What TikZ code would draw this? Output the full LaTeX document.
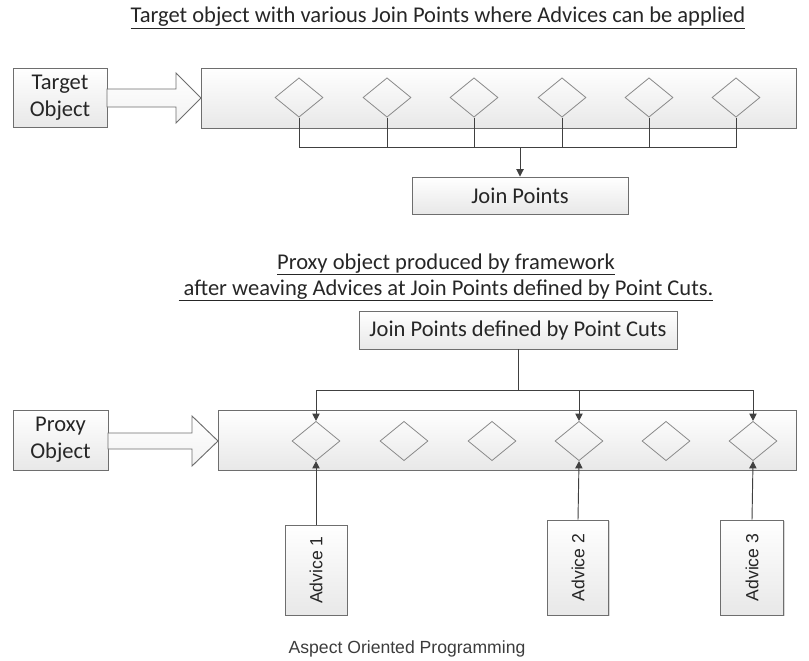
\documentclass[tikz,border=0pt]{standalone}
\usepackage{fontspec}
\setmainfont{Carlito}
\newfontfamily\arialfont{Liberation Sans}
\usetikzlibrary{arrows.meta,shapes.geometric,shadows}
\definecolor{boxline}{HTML}{6E6E6E}
\definecolor{conn}{HTML}{404040}
\definecolor{dia}{HTML}{8A8A8A}
\definecolor{txt}{HTML}{262626}
\tikzset{
  box/.style={draw=boxline, line width=0.7pt, top color=white, bottom color=black!9,
    inner sep=0pt, align=center, text=txt,
    font=\fontsize{16.9}{20}\selectfont,
    drop shadow={shadow xshift=1.1pt, shadow yshift=-1.1pt, opacity=.25, fill=black!60}},
  advbox/.style={box, rotate=90, font=\arialfont\fontsize{13.2}{16}\selectfont},
  jpdia/.style={diamond, draw=dia, line width=0.6pt, minimum width=36pt, minimum height=29.5pt, inner sep=0pt},
  conn/.style={draw=conn, line width=0.7pt},
  tip/.style={conn, -{Triangle[width=5.5pt,length=5.5pt]}},
  blockarrow/.style={draw=boxline, line width=0.7pt, top color=white, bottom color=black!5},
  title/.style={text=txt, font=\fontsize{16.9}{20}\selectfont, anchor=base, inner sep=0pt}
}
\begin{document}
\begin{tikzpicture}[x=0.75pt,y=-0.75pt]
\useasboundingbox (0,0) rectangle (809,660);

% ---------- Top section ----------
\node[title] (t1) at (438,23) {\underline{Target object with various Join Points where Advices can be applied}};

\node[box, minimum width=70.5pt, minimum height=44.25pt] (to) at (60,97.5) {Target\\Object};
\node[box, minimum width=446.25pt, minimum height=45pt] (tr) at (498.5,98) {};
\path[blockarrow] (107,89) -- (176,89) -- (176,73) -- (201,98) -- (176,123) -- (176,107) -- (107,107) -- cycle;

\foreach \i/\x in {1/299,2/387,3/474,4/562,5/649,6/736}{
  \node[jpdia] (d\i) at (\x,97.5) {};
}
\node[box, minimum width=162pt, minimum height=27.75pt] (jp) at (520,195.5) {Join Points};
\coordinate (bus) at (520,147);
\foreach \i in {1,...,6}{
  \draw[conn] (d\i.south) |- (bus);
}
\draw[tip] (bus) -- (jp.north);

% ---------- Middle section ----------
\node[title] (t2) at (446,269) {\underline{Proxy object produced by framework}};
\node[title] (t3) at (446,295) {\underline{\ after weaving Advices at Join Points defined by Point Cuts.}};

\node[box, minimum width=238.5pt, minimum height=28.5pt] (jpc) at (518,330) {Join Points defined by Point Cuts};

\node[box, minimum width=71.25pt, minimum height=45pt] (po) at (60.5,440) {Proxy\\Object};
\node[box, minimum width=433.5pt, minimum height=45pt] (pr) at (507,440) {};
\path[blockarrow] (108,433) -- (192,433) -- (192,416) -- (218,441) -- (192,466) -- (192,449) -- (108,449) -- cycle;

\foreach \i/\x in {1/316,2/404,3/492,4/579,5/666,6/753}{
  \node[jpdia] (p\i) at (\x,441) {};
}
\coordinate (pc) at (518,390);
\draw[conn] (jpc.south) -- (pc);
\draw[tip] (pc) -| (p1.north);
\draw[tip] (pc) -| (p4.north);
\draw[tip] (pc) -| (p6.north);

% ---------- Advices ----------
\node[advbox, minimum width=67.5pt, minimum height=46.5pt] (a1) at (316,570) {Advice 1};
\node[advbox, minimum width=71.25pt, minimum height=45.75pt] (a2) at (578,567.5) {Advice 2};
\node[advbox, minimum width=71.25pt, minimum height=47.25pt] (a3) at (752,567.5) {Advice 3};
\draw[tip] (a1.east) -- (p1.south);
\draw[tip] (a2.east) -- (p4.south);
\draw[tip] (a3.east) -- (p6.south);

\node[anchor=base, inner sep=0pt, text=txt!90, font=\arialfont\fontsize{13.2}{16}\selectfont] (cap) at (407,653) {Aspect Oriented Programming};
\end{tikzpicture}
\end{document}
